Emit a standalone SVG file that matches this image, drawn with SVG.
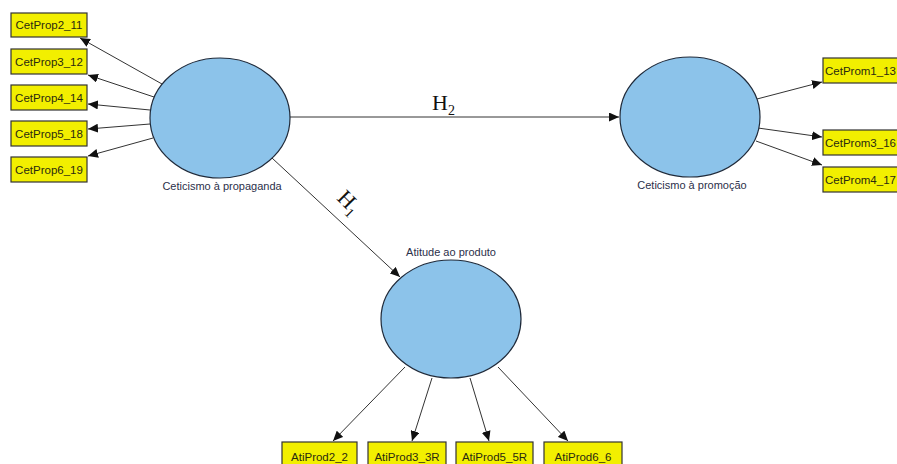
<svg xmlns="http://www.w3.org/2000/svg" width="897" height="464" viewBox="0 0 897 464">
<style>
.box{fill:#f2ef00;stroke:#333;stroke-width:1.2}
.lat{fill:#8cc3ea;stroke:#1f2a3a;stroke-width:1.2}
.bt{font-family:"Liberation Sans",Arial,sans-serif;font-size:11.5px;fill:#2a2a10;text-anchor:middle}
.lt{font-family:"Liberation Sans",Arial,sans-serif;font-size:11px;fill:#2b2f4a;text-anchor:middle}
.h{font-family:"Liberation Serif","Times New Roman",serif;font-size:22px;fill:#111}
.c line{stroke:#333;stroke-width:1;marker-end:url(#ah)}
</style>
<defs>
<marker id="ah" markerUnits="userSpaceOnUse" markerWidth="11" markerHeight="9" refX="10" refY="4.5" orient="auto">
<path d="M0,0 L10,4.5 L0,9 Z" fill="#111"/>
</marker>
</defs>
<rect width="897" height="464" fill="#fff"/>
<g class="c" id="connectors">
<line x1="162" y1="84" x2="80" y2="38"/>
<line x1="154" y1="97" x2="88" y2="75"/>
<line x1="150" y1="110" x2="88" y2="104"/>
<line x1="150" y1="124" x2="88" y2="129"/>
<line x1="153" y1="138" x2="88" y2="156"/>
<line x1="757" y1="99" x2="822" y2="82"/>
<line x1="758" y1="128" x2="822" y2="137"/>
<line x1="756" y1="141" x2="822" y2="165"/>
<line x1="290" y1="117" x2="619" y2="117"/>
<line x1="272" y1="158" x2="400" y2="277"/>
<line x1="405" y1="367" x2="333" y2="441"/>
<line x1="432" y1="378" x2="412" y2="441"/>
<line x1="470" y1="378" x2="489" y2="441"/>
<line x1="498" y1="367" x2="568" y2="441"/>
</g>
<text class="h" x="432" y="110">H<tspan font-size="14" dy="5">2</tspan></text>
<text class="h" transform="translate(336,199) rotate(45)">H<tspan font-size="14" dy="5">1</tspan></text>
<g id="ceticismo_propaganda">
<ellipse class="lat" cx="220" cy="118" rx="70" ry="60"/>
<text class="lt" x="222" y="190">Ceticismo à propaganda</text>
</g>
<g id="ceticismo_promocao">
<ellipse class="lat" cx="690" cy="117" rx="70" ry="60"/>
<text class="lt" x="692" y="189">Ceticismo à promoção</text>
</g>
<g id="atitude_produto">
<ellipse class="lat" cx="451" cy="319" rx="70" ry="59"/>
<text class="lt" x="451" y="256">Atitude ao produto</text>
</g>
<g id="CetProp2_11"><rect class="box" x="11" y="13" width="76" height="24"/><text class="bt" x="49" y="29">CetProp2_11</text></g>
<g id="CetProp3_12"><rect class="box" x="11" y="49" width="76" height="25"/><text class="bt" x="49" y="65.5">CetProp3_12</text></g>
<g id="CetProp4_14"><rect class="box" x="11" y="85" width="76" height="25"/><text class="bt" x="49" y="101.5">CetProp4_14</text></g>
<g id="CetProp5_18"><rect class="box" x="11" y="121" width="76" height="25"/><text class="bt" x="49" y="137.5">CetProp5_18</text></g>
<g id="CetProp6_19"><rect class="box" x="11" y="157" width="76" height="25"/><text class="bt" x="49" y="173.5">CetProp6_19</text></g>
<g id="CetProm1_13"><rect class="box" x="823" y="58" width="80" height="25"/><text class="bt" x="825" y="74.5" style="text-anchor:start">CetProm1_13</text></g>
<g id="CetProm3_16"><rect class="box" x="823" y="130" width="80" height="25"/><text class="bt" x="825" y="146.5" style="text-anchor:start">CetProm3_16</text></g>
<g id="CetProm4_17"><rect class="box" x="823" y="167" width="80" height="25"/><text class="bt" x="825" y="183.5" style="text-anchor:start">CetProm4_17</text></g>
<g id="AtiProd2_2"><rect class="box" x="282" y="442" width="75" height="26"/><text class="bt" x="319.5" y="461">AtiProd2_2</text></g>
<g id="AtiProd3_3R"><rect class="box" x="368" y="442" width="78" height="26"/><text class="bt" x="407" y="461">AtiProd3_3R</text></g>
<g id="AtiProd5_5R"><rect class="box" x="456" y="442" width="77" height="26"/><text class="bt" x="494.5" y="461">AtiProd5_5R</text></g>
<g id="AtiProd6_6"><rect class="box" x="544" y="442" width="78" height="26"/><text class="bt" x="583" y="461">AtiProd6_6</text></g>
</svg>
